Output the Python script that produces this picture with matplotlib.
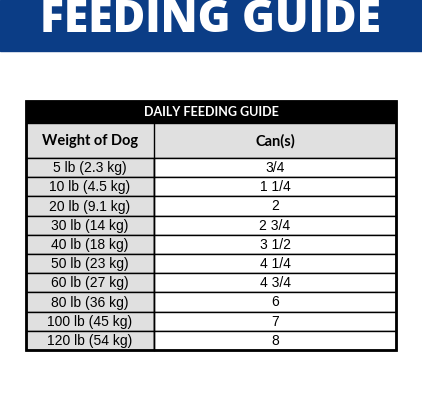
import matplotlib
matplotlib.use("Agg")
import matplotlib.pyplot as plt
from matplotlib.patches import Rectangle

title = "FEEDING GUIDE"
table_title = "DAILY FEEDING GUIDE"
col_headers = ["Weight of Dog", "Can(s)"]
weights = ["5 lb (2.3 kg)", "10 lb (4.5 kg)", "20 lb (9.1 kg)", "30 lb (14 kg)", "40 lb (18 kg)",
           "50 lb (23 kg)", "60 lb (27 kg)", "80 lb (36 kg)", "100 lb (45 kg)", "120 lb (54 kg)"]
cans = ["3/4", "1 1/4", "2", "2 3/4", "3 1/2", "4 1/4", "4 3/4", "6", "7", "8"]

fig = plt.figure(figsize=(4.22, 4.0), dpi=100)
ax = fig.add_axes([0, 0, 1, 1])
ax.set_xlim(0, 422); ax.set_ylim(400, 0); ax.axis("off")

# banner
ax.add_patch(Rectangle((0, 0), 422, 51, color="#0b3d86"))
ax.text(211, 20, title, color="white", fontsize=32, fontweight="heavy",
        family="Open Sans", ha="center", va="center")

x0, x1, xm = 26, 396, 154
ax.add_patch(Rectangle((x0, 101), x1 - x0, 22, color="black"))
ax.text((x0 + x1) / 2, 112, table_title, color="white", fontsize=9, fontweight="bold",
        family="Lato", ha="center", va="center")
ax.add_patch(Rectangle((x0, 123), x1 - x0, 35, facecolor="#e0e0e0", edgecolor="black", lw=1))
ax.plot([xm, xm], [123, 350], color="black", lw=1)
ax.text((x0 + xm) / 2, 141, col_headers[0], fontsize=10.5, fontweight="bold", family="Lato",
        ha="center", va="center")
ax.text((xm + x1) / 2, 141, col_headers[1], fontsize=10.5, fontweight="bold", family="Lato",
        ha="center", va="center")
rh = (350 - 158) / len(weights)
for i, (w, c) in enumerate(zip(weights, cans)):
    y = 158 + i * rh
    ax.add_patch(Rectangle((x0, y), xm - x0, rh, facecolor="#e0e0e0", edgecolor="black", lw=1))
    ax.add_patch(Rectangle((xm, y), x1 - xm, rh, facecolor="white", edgecolor="black", lw=1))
    ax.text((x0 + xm) / 2, y + rh / 2 + 0.5, w, fontsize=10, family="Liberation Sans",
            ha="center", va="center")
    ax.text((xm + x1) / 2, y + rh / 2 + 0.5, c, fontsize=10, family="Liberation Sans",
            ha="center", va="center")
ax.add_patch(Rectangle((x0, 101), x1 - x0, 249, fill=False, edgecolor="black", lw=2))

fig.savefig("out.png", dpi=100)
